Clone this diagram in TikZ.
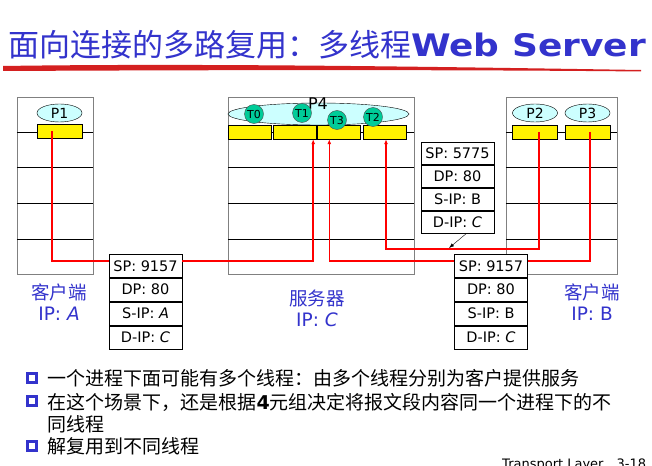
\documentclass[tikz,border=0pt]{standalone}
\usepackage{fontspec}
\setmainfont{DejaVu Sans}
\newfontfamily\cjk{Noto Sans CJK SC}
\usetikzlibrary{arrows.meta, positioning, shapes.geometric}
\usepackage{xcolor}
\definecolor{titleblue}{RGB}{51,51,204}
\definecolor{procfill}{RGB}{204,255,255}
\definecolor{thrgreen}{RGB}{0,204,153}
\definecolor{brushred}{RGB}{212,32,32}

\begin{document}
\begin{tikzpicture}[
        x=1pt, y=-1pt,
        every node/.style={font=\fontsize{14.5}{16}\selectfont},
        host/.style={
            rectangle,
            draw=gray,
            minimum height=177pt,
            inner sep=0pt
        },
        proc/.style={
            ellipse,
            draw,
            fill=procfill,
            minimum width=45pt,
            minimum height=18pt,
            inner sep=0pt,
            font=\fontsize{14}{14}\selectfont
        },
        thr/.style={
            circle,
            draw=black!70,
            fill=thrgreen,
            minimum size=19pt,
            inner sep=0pt,
            font=\fontsize{11}{11}\selectfont
        },
        sock/.style={
            rectangle,
            draw,
            fill=yellow,
            minimum width=45pt,
            minimum height=14pt,
            inner sep=0pt
        },
        hdr/.style={
            rectangle,
            draw,
            fill=white,
            minimum width=73pt,
            minimum height=23.5pt,
            inner sep=0pt
        },
        lbl/.style={
            text=titleblue,
            font=\fontsize{18.5}{20}\selectfont
        },
        bul/.style={
            rectangle,
            draw=titleblue,
            line width=2.2pt,
            fill=white,
            minimum size=9pt,
            inner sep=0pt
        },
        txt/.style={
            anchor=west,
            align=left,
            font=\fontsize{19}{22.7}\selectfont\cjk
        },
        wire/.style={
            red,
            line width=1.6pt
        },
        arrow/.style={
            -{Latex[length=5pt, width=4pt]}
        }
    ]

    \useasboundingbox[fill=white] (0,0) rectangle (652,465);

    % Title
    \node[anchor=base west, inner sep=0pt, text=titleblue] (title) at (8,57)
        {\fontsize{31}{31}\selectfont\cjk 面向连接的多路复用：多线程\rmfamily\bfseries\scalebox{1.16}[1]{Web Server}};
    \fill[brushred] (3,66) .. controls (200,63) and (450,67) .. (641,70)
        -- (641,71.5) .. controls (450,69.5) and (200,70) .. (3,71) -- cycle;

    % Hosts
    \node[host, minimum width=76pt] (hostA) at (55,185.5) {};
    \node[host, minimum width=186pt] (hostC) at (321,185.5) {};
    \node[host, minimum width=111pt] (hostB) at (561.5,185.5) {};

    \foreach \h in {hostA, hostC, hostB}
        \foreach \y in {132, 167, 203, 239}
            \draw (\h.west |- 0,\y) -- (\h.east |- 0,\y);

    % Client A
    \node[proc] (p1) at (59.5,113) {P1};
    \node[sock] (sA) at (59.5,131.5) {};

    % Server C
    \node[proc, minimum width=181pt, minimum height=22pt] (p4) at (318.5,114) {};
    \node[font=\fontsize{16}{16}\selectfont] (p4lbl) at (318,104) {P4};
    \node[sock, minimum width=43pt] (sT0) at (249.5,132) {};
    \node[sock, minimum width=43pt] (sT1) at (294.5,132) {};
    \node[sock, minimum width=43pt] (sT3) at (339,132) {};
    \node[sock, minimum width=43pt] (sT2) at (384.5,132) {};
    \node[thr] (t0) at (254,114) {T0};
    \node[thr] (t1) at (302,113) {T1};
    \node[thr] (t3) at (337,120) {T3};
    \node[thr] (t2) at (373,117) {T2};

    % Client B
    \node[proc] (p2) at (535,113) {P2};
    \node[proc] (p3) at (587.5,113) {P3};
    \node[sock] (sP2) at (535,132) {};
    \node[sock] (sP3) at (587.5,132) {};

    % Segment headers
    \node[hdr] (spA) at (145.5,265.75) {SP: 9157};
    \node[hdr, below=0pt of spA] (dpA) {DP: 80};
    \node[hdr, below=0pt of dpA] (sipA) {S-IP: \textit{A}};
    \node[hdr, below=0pt of sipA] (dipA) {D-IP: \textit{C}};

    \node[hdr, minimum height=22.6pt] (spM) at (457.5,153.3) {SP: 5775};
    \node[hdr, minimum height=22.6pt, below=0pt of spM] (dpM) {DP: 80};
    \node[hdr, minimum height=22.6pt, below=0pt of dpM] (sipM) {S-IP: B};
    \node[hdr, minimum height=22.6pt, below=0pt of sipM] (dipM) {D-IP: \textit{C}};

    \node[hdr] (spB) at (491,265.75) {SP: 9157};
    \node[hdr, below=0pt of spB] (dpB) {DP: 80};
    \node[hdr, below=0pt of dpB] (sipB) {S-IP: B};
    \node[hdr, below=0pt of sipB] (dipB) {D-IP: \textit{C}};

    % Wires
    \draw[wire] ([xshift=-7.5pt]sA.center) |- ([yshift=5pt]spA.west);
    \draw[wire, arrow] ([yshift=5pt]spA.east) -| ([xshift=-3pt]sT1.south east);

    \draw[wire] ([xshift=2.5pt]sP3.center) |- ([yshift=5pt]spB.east);
    \draw[wire, arrow] ([yshift=5pt]spB.west) -| ([xshift=12pt]sT3.south west);

    \coordinate (bend) at (539,249);
    \draw[wire, arrow] ([xshift=4pt]sP2.center) -- (bend) -| ([xshift=1.5pt]sT2.south);

    \coordinate (hit) at (449,248);
    \draw[arrow, -{Latex[length=5pt, width=3.5pt]}] ([xshift=8.5pt]dipM.south) -- (hit);

    % Host labels
    \node[lbl] (cliA) at (59,292) {\cjk 客户端};
    \node[lbl] (ipA) at (59,314) {IP: \textit{A}};
    \node[lbl] (srvC) at (317,298) {\cjk 服务器};
    \node[lbl] (ipC) at (317,320) {IP: \textit{C}};
    \node[lbl] (cliB) at (592,292) {\cjk 客户端};
    \node[lbl] (ipB) at (592,314) {IP: B};

    % Bullets
    \node[bul] (b1) at (32,378) {};
    \node[txt] (l1) at (44,378) {一个进程下面可能有多个线程：由多个线程分别为客户提供服务};
    \node[bul] (b2) at (32,401) {};
    \node[txt, anchor=north west] (l2) at (44,389.5)
        {在这个场景下，还是根据{\rmfamily\bfseries 4}元组决定将报文段内容同一个进程下的不\\同线程};
    \node[bul] (b3) at (32,446) {};
    \node[txt] (l3) at (44,446) {解复用到不同线程};

    \node[anchor=north west, inner sep=0pt, font=\fontsize{13}{13}\selectfont] (foot) at (502,459) {Transport Layer\quad 3-18};

\end{tikzpicture}
\end{document}
